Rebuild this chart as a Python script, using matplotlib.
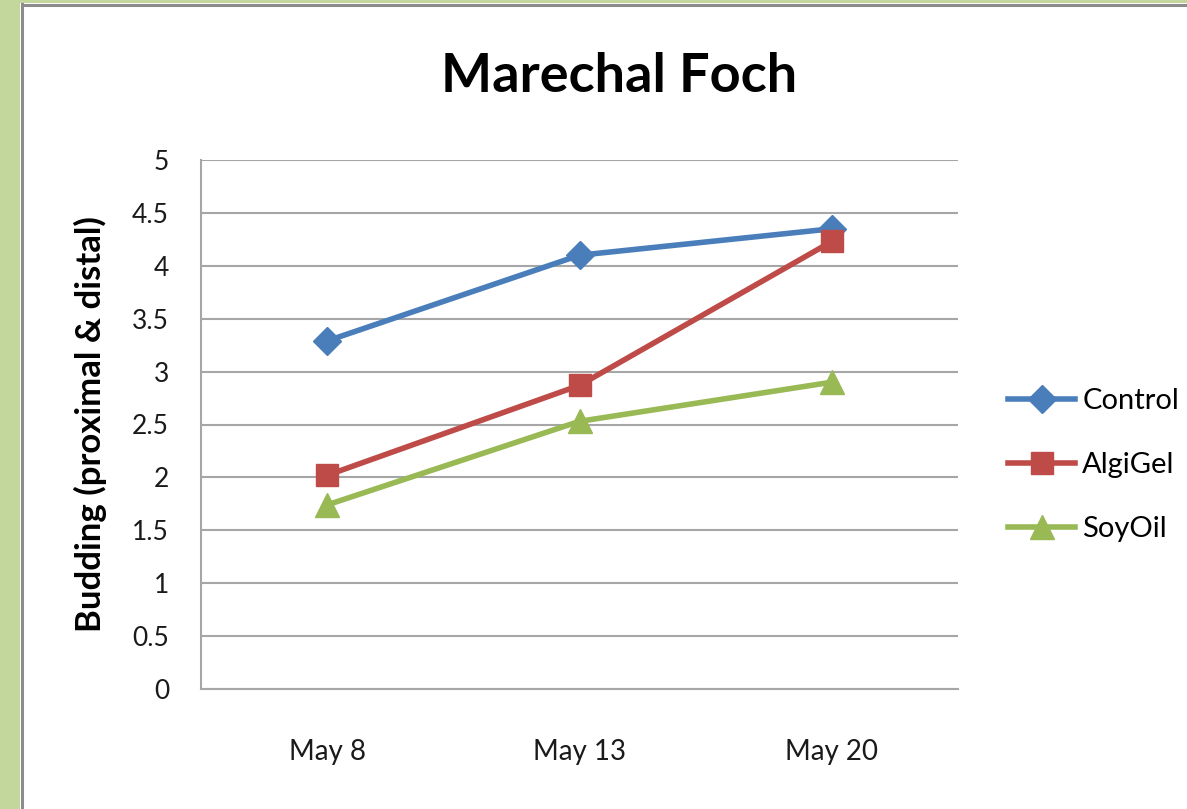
import matplotlib
matplotlib.use("Agg")
import matplotlib.pyplot as plt
from matplotlib.patches import Rectangle

dates = ["May 8", "May 13", "May 20"]
control = [3.29, 4.10, 4.35]
algigel = [2.02, 2.87, 4.23]
soyoil = [1.74, 2.53, 2.90]
yticks = [0, 0.5, 1, 1.5, 2, 2.5, 3, 3.5, 4, 4.5, 5]

plt.rcParams['font.family'] = ['Lato', 'DejaVu Sans']

fig = plt.figure(figsize=(11.87, 8.09), dpi=100)
fig.patch.set_facecolor("white")

# frame: green strip on left/top, gray inner edge
fig.patches.append(Rectangle((0, 0), 20 / 1187, 1, transform=fig.transFigure,
                             facecolor="#c3d69b", edgecolor="none"))
fig.patches.append(Rectangle((0, 1 - 3 / 809), 1, 3 / 809, transform=fig.transFigure,
                             facecolor="#c3d69b", edgecolor="none"))
fig.add_artist(plt.Line2D([21.5 / 1187, 21.5 / 1187], [0, 1 - 4 / 809],
                          transform=fig.transFigure, color="#8c8c8c", lw=2.2))
fig.add_artist(plt.Line2D([21.5 / 1187, 1], [1 - 4.5 / 809, 1 - 4.5 / 809],
                          transform=fig.transFigure, color="#8c8c8c", lw=2.2))

ax = fig.add_axes([201 / 1187, 1 - 689 / 809, 757 / 1187, 529 / 809])
x = [0.5, 1.5, 2.5]
ax.plot(x, control, color="#4a7ebb", lw=4, marker="D", ms=14, label="Control")
ax.plot(x, algigel, color="#be4b48", lw=4, marker="s", ms=16, label="AlgiGel")
ax.plot(x, soyoil, color="#98b954", lw=4, marker="^", ms=17, label="SoyOil")

ax.set_xlim(0, 3)
ax.set_ylim(0, 5)
ax.set_yticks(yticks)
ax.set_yticklabels([f"{v:g}" for v in yticks])
ax.set_xticks(x)
ax.set_xticklabels(dates)
ax.tick_params(length=0, labelsize=19, colors="#1a1a1a")
ax.tick_params(axis="y", pad=23)
ax.tick_params(axis="x", pad=36, labelsize=20)
ax.yaxis.grid(True, color="#a6a6a6", lw=1.5)
ax.set_axisbelow(True)
for s in ["top", "right"]:
    ax.spines[s].set_visible(False)
for s in ["left", "bottom"]:
    ax.spines[s].set_color("#a6a6a6")
    ax.spines[s].set_linewidth(1.5)

ax.set_ylabel("Budding (proximal & distal)", fontsize=25, fontweight="bold", labelpad=18)
fig.text(619 / 1187, 1 - 76 / 809, "Marechal Foch", fontsize=39, fontweight="bold",
         ha="center", va="center")

ax.legend(loc="center left", bbox_to_anchor=(1.066, 0.423), frameon=False, fontsize=21,
          handlelength=2.3, labelspacing=1.3, handletextpad=0.25, borderpad=0,
          borderaxespad=0)

fig.savefig("out.png", dpi=100)
